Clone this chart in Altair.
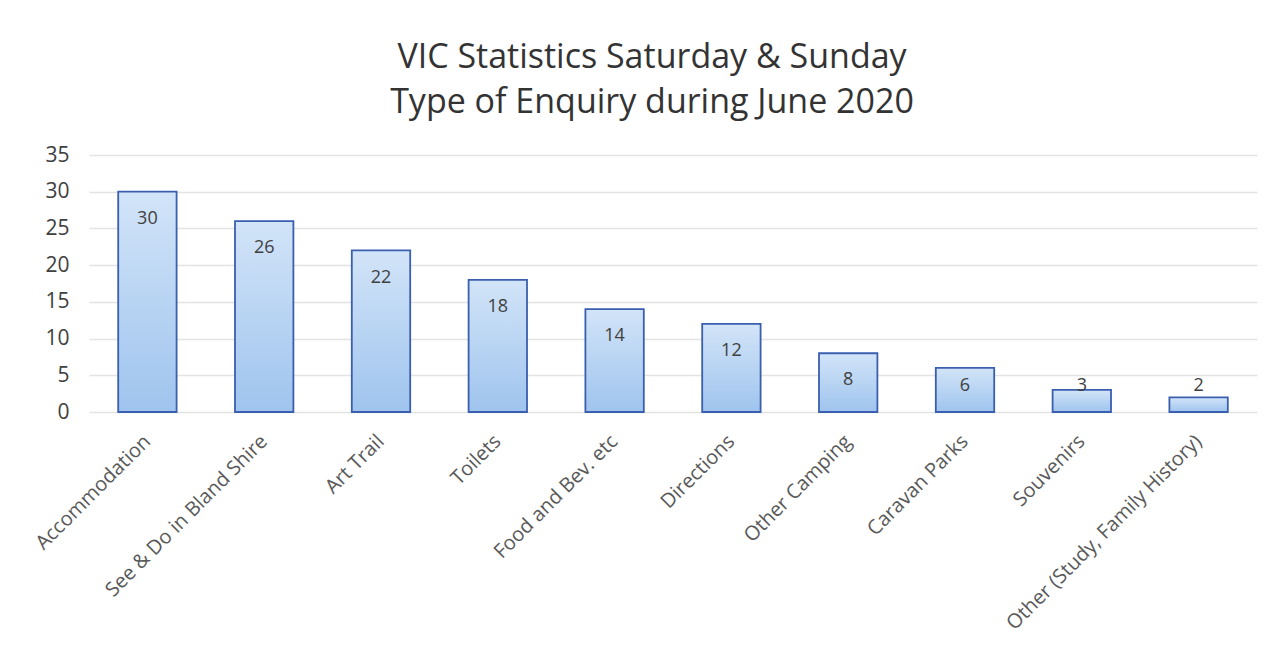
import altair as alt
import pandas as pd

categories = ["Accommodation", "See & Do in Bland Shire", "Art Trail", "Toilets",
              "Food and Bev. etc", "Directions", "Other Camping", "Caravan Parks",
              "Souvenirs", "Other (Study, Family History)"]
values = [30, 26, 22, 18, 14, 12, 8, 6, 3, 2]
y_ticks = [0, 5, 10, 15, 20, 25, 30, 35]

df = pd.DataFrame({"cat": categories, "v": values})

x_axis = alt.Axis(labelAngle=-45, labelAlign="right", labelBaseline="middle",
                  labelFontSize=20, labelColor="#595959", labelFont="Open Sans",
                  ticks=False, domain=False, labelPadding=26, labelLimit=500)
x_scale = alt.Scale(paddingInner=0.5, paddingOuter=0.25)
y_axis = alt.Axis(values=y_ticks, labelFontSize=21, labelOverlap=False,
                  labelColor="#404040", labelFont="Open Sans", ticks=False,
                  domain=False, labelPadding=20, gridColor="#e3e3e3",
                  gridWidth=1.5, tickCount=8)
y_scale = alt.Scale(domain=[0, 35], nice=False)

bars = alt.Chart(df).mark_bar(
    color=alt.Gradient(gradient="linear", x1=0, x2=0, y1=0, y2=1,
                       stops=[alt.GradientStop(color="#d2e4f8", offset=0),
                              alt.GradientStop(color="#9fc4ee", offset=1)]),
    stroke="#3a5fae", strokeWidth=1.8
).encode(
    x=alt.X("cat:N", sort=categories, title=None, scale=x_scale, axis=x_axis),
    y=alt.Y("v:Q", title=None, scale=y_scale, axis=y_axis))

labels = alt.Chart(df).transform_calculate(
    lab="max(datum.v - 3.7, 3.5)"
).mark_text(fontSize=18, color="#404040", font="Open Sans").encode(
    x=alt.X("cat:N", sort=categories, title=None, scale=x_scale, axis=x_axis),
    y=alt.Y("lab:Q", title=None, scale=y_scale, axis=y_axis),
    text="v:Q")

chart = alt.layer(bars, labels).properties(
    width=1168, height=257,
    padding={"left": 23, "top": 33, "right": 20, "bottom": 5},
    title=alt.TitleParams(["VIC Statistics Saturday & Sunday", "Type of Enquiry during June 2020"],
                          fontSize=34, font="Open Sans", fontWeight="normal",
                          color="#333333", anchor="middle", offset=24, lineHeight=45,
                          dx=-21)
).configure_view(stroke=None)

chart.save("out.html", embed_options={"renderer": "svg", "actions": False})
